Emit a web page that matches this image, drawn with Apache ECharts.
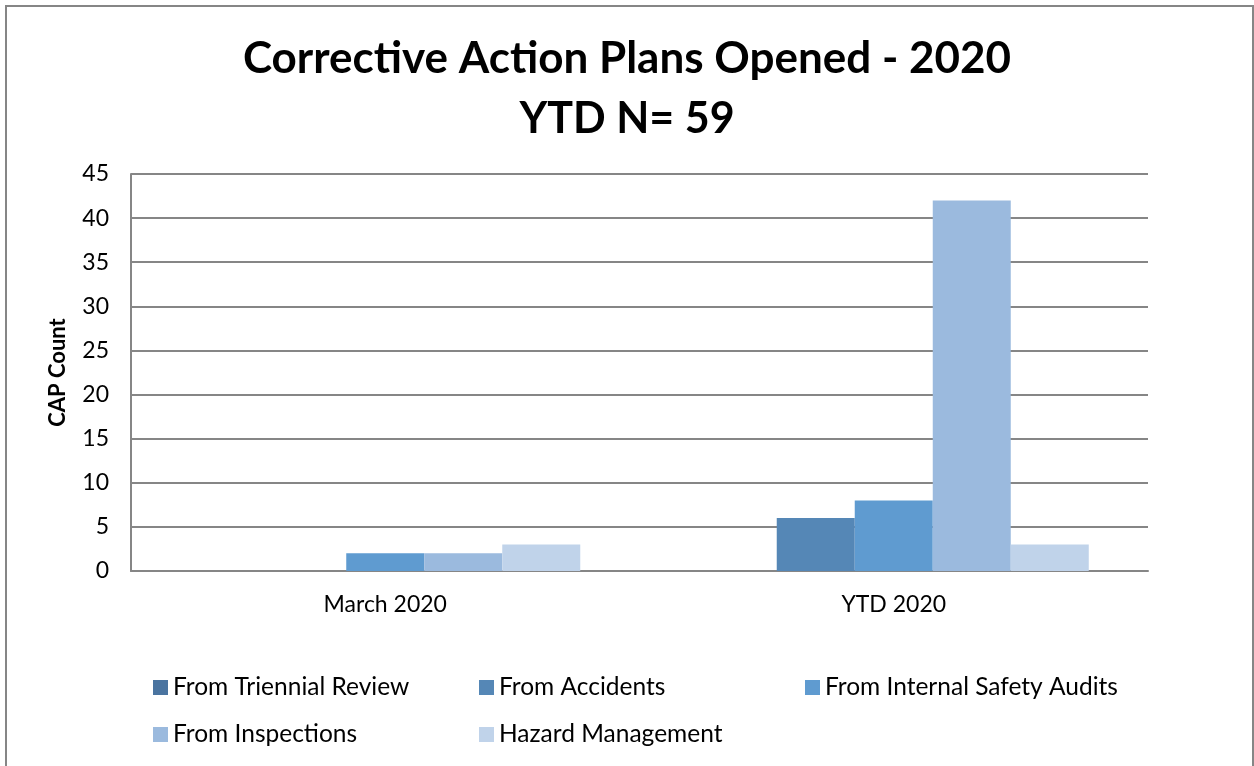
<!DOCTYPE html>
<html>
<head>
<meta charset="utf-8">
<script src="https://cdn.jsdelivr.net/npm/echarts@6/dist/echarts.min.js"></script>
<style>
  html, body { margin: 0; padding: 0; background: #fff; }
  #chart { width: 1254px; height: 766px; }
</style>
</head>
<body>
<div id="chart"></div>
<script>
var categories = ["March 2020", "YTD 2020"];
var seriesNames = ["From Triennial Review", "From Accidents", "From Internal Safety Audits", "From Inspections", "Hazard Management"];
var triennial = [0, 0];
var accidents = [0, 6];
var audits = [2, 8];
var inspections = [2, 42];
var hazard = [3, 3];
var yTicks = [0, 5, 10, 15, 20, 25, 30, 35, 40, 45];

var colors = ["#4a74a0", "#5587b6", "#5f9bd0", "#9bbade", "#c0d3ea"];
var values = [triennial, accidents, audits, inspections, hazard];
var font = "Lato, 'Open Sans', sans-serif";

var chartDom = document.getElementById("chart");
var myChart = echarts.init(chartDom, null, { renderer: "canvas" });

// legend positions (two rows, three columns)
var legendPos = [
  { left: 148, top: 670 },
  { left: 474, top: 670 },
  { left: 800, top: 670 },
  { left: 148, top: 717 },
  { left: 474, top: 717 }
];

var option = {
  animation: false,
  color: colors,
  title: [
    {
      text: "Corrective Action Plans Opened - 2020",
      left: "center",
      top: 32,
      textStyle: { fontFamily: font, fontSize: 44, fontWeight: "bold", color: "#000" }
    },
    {
      text: "YTD N= 59",
      left: "center",
      top: 93,
      textStyle: { fontFamily: font, fontSize: 43, fontWeight: "bold", color: "#000" }
    }
  ],
  legend: seriesNames.map(function (name, i) {
    return {
      data: [name],
      left: legendPos[i].left,
      top: legendPos[i].top,
      itemWidth: 15,
      itemHeight: 15,
      itemGap: 6,
      icon: "rect",
      textStyle: { fontFamily: font, fontSize: 24.5, color: "#000" }
    };
  }),
  graphic: [
    {
      type: "rect",
      shape: { x: 6, y: 6, width: 1247, height: 780 },
      style: { fill: "none", stroke: "#868686", lineWidth: 2 },
      silent: true
    }
  ],
  grid: { left: 131, right: 106, top: 174, bottom: 195 },
  xAxis: {
    type: "category",
    data: categories,
    axisLine: { lineStyle: { color: "#868686", width: 2 } },
    axisTick: { show: false },
    axisLabel: { fontFamily: font, fontSize: 23, color: "#000", margin: 22 }
  },
  yAxis: {
    type: "value",
    min: 0,
    max: 45,
    interval: 5,
    name: "CAP Count",
    nameLocation: "middle",
    nameGap: 62,
    nameTextStyle: { fontFamily: font, fontSize: 22, fontWeight: "bold", color: "#000" },
    axisLine: { show: true, lineStyle: { color: "#868686", width: 2 } },
    axisTick: { show: false },
    splitLine: { lineStyle: { color: "#868686", width: 2 } },
    axisLabel: {
      fontFamily: font, fontSize: 23, color: "#000", margin: 22,
      formatter: function (v) { return yTicks.indexOf(v) >= 0 ? String(v) : ""; }
    }
  },
  series: seriesNames.map(function (name, i) {
    return {
      name: name,
      type: "bar",
      data: values[i],
      barGap: "0%",
      barCategoryGap: "23.3%",
      itemStyle: { color: colors[i] }
    };
  })
};

option && myChart.setOption(option);
</script>
</body>
</html>
